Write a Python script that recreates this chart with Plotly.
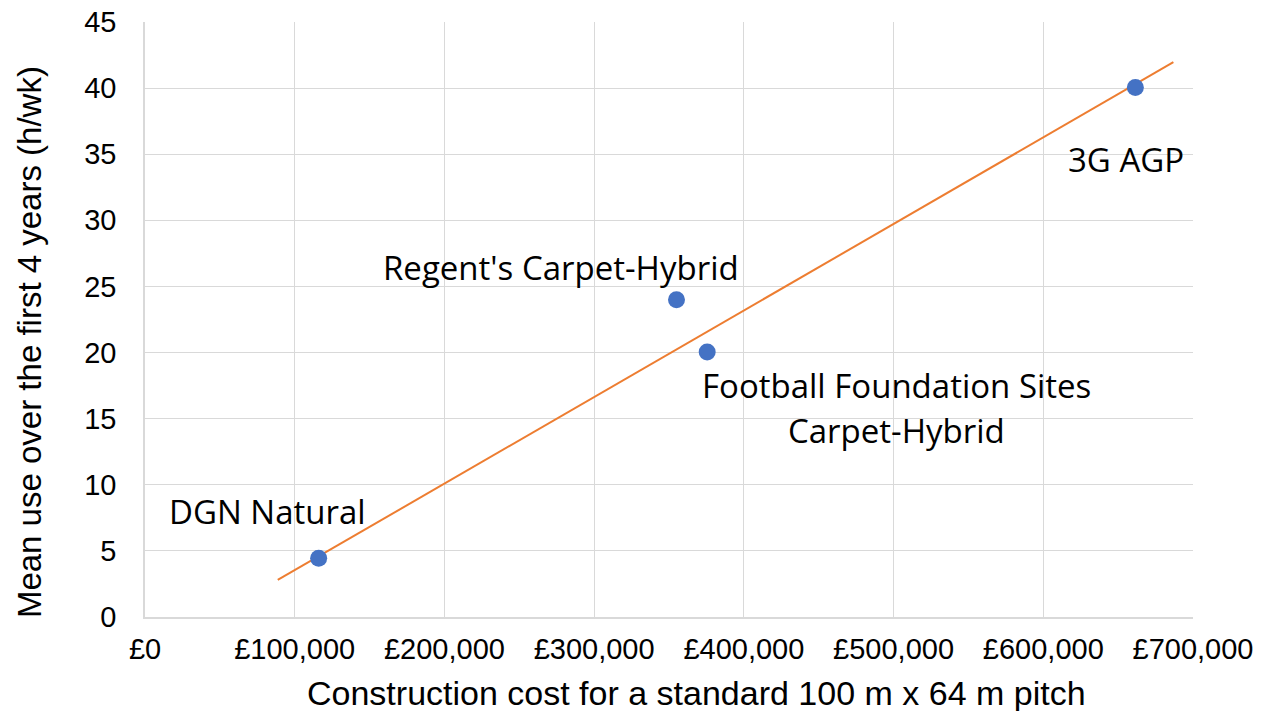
import plotly.graph_objects as go

# Data
sites = ["DGN Natural", "Regent's Carpet-Hybrid", "Football Foundation Sites Carpet-Hybrid", "3G AGP"]
cost = [116000, 355000, 375500, 661500]
use = [4.45, 24.0, 20.05, 40.05]

# Linear trendline as drawn (end points)
trend_cost = [88650, 686900]
trend_use = [2.8, 41.96]

x_ticks = [0, 100000, 200000, 300000, 400000, 500000, 600000, 700000]
x_tick_labels = ["£0", "£100,000", "£200,000", "£300,000", "£400,000", "£500,000", "£600,000", "£700,000"]
y_ticks = [0, 5, 10, 15, 20, 25, 30, 35, 40, 45]

x_title = "Construction cost for a standard 100 m x 64 m pitch"
y_title = "Mean use over the first 4 years (h/wk)"

# Label positions (data coords) and text lines
label_lines = [
    ("DGN Natural", 81800, 8.0),
    ("Regent's Carpet-Hybrid", 277900, 26.4),
    ("Football Foundation Sites", 502000, 17.5),
    ("Carpet-Hybrid", 502000, 14.1),
    ("3G AGP", 655300, 34.6),
]

fig = go.Figure()
fig.add_trace(go.Scatter(x=trend_cost, y=trend_use, mode="lines",
                         line=dict(color="#ED7D31", width=2), showlegend=False, hoverinfo="skip"))
fig.add_trace(go.Scatter(x=cost, y=use, mode="markers", text=sites,
                         marker=dict(color="#4472C4", size=17), showlegend=False))

for txt, lx, ly in label_lines:
    fig.add_annotation(x=lx, y=ly, text=txt, showarrow=False, xanchor="center", yanchor="middle",
                       font=dict(family="Open Sans", size=33, color="#000000"))

# Axis titles as paper-anchored annotations
fig.add_annotation(x=0.5258, y=-0.1277, xref="paper", yref="paper", text=x_title, showarrow=False,
                   xanchor="center", yanchor="middle",
                   font=dict(family="Liberation Sans, Arial", size=34, color="#000000"))
fig.add_annotation(x=-0.1107, y=0.462, xref="paper", yref="paper", text=y_title, showarrow=False,
                   xanchor="center", yanchor="middle", textangle=-90,
                   font=dict(family="Liberation Sans, Arial", size=33, color="#000000"))

axis_font = dict(family="Liberation Sans, Arial", size=29, color="#000000")
fig.update_xaxes(range=[0, 700000], tickvals=x_ticks, ticktext=x_tick_labels,
                 showgrid=True, gridcolor="#d9d9d9", gridwidth=1.3, zeroline=False,
                 showline=True, linecolor="#d9d9d9", linewidth=1.5, automargin=False,
                 ticks="", ticklabelstandoff=5, tickfont=axis_font, ticklabeloverflow="allow")
fig.update_yaxes(range=[0, 45], tickvals=y_ticks,
                 showgrid=True, gridcolor="#d9d9d9", gridwidth=1.3, zeroline=False,
                 showline=True, linecolor="#d9d9d9", linewidth=1.5, automargin=False,
                 ticks="", ticklabelstandoff=21, tickfont=axis_font, ticklabeloverflow="allow")

fig.update_layout(width=1265, height=711, plot_bgcolor="white", paper_bgcolor="white",
                  margin=dict(l=137, r=80, t=14, b=102), hovermode=False)

fig.write_html("out.html")
